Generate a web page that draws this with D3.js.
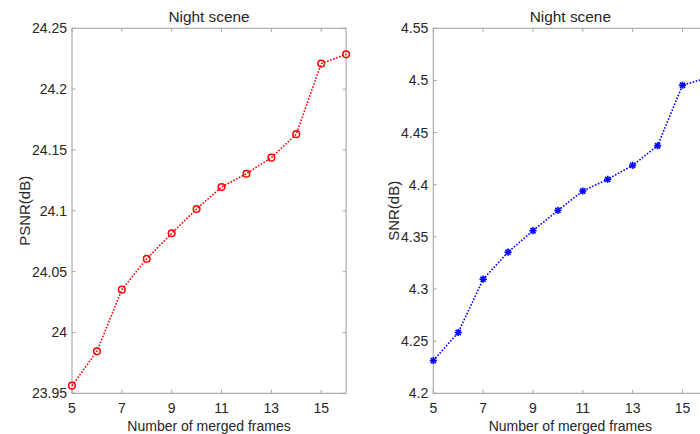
<!DOCTYPE html>
<html><head><meta charset="utf-8">
<script src="https://cdn.jsdelivr.net/npm/d3@7"></script>
<style>
body{margin:0;background:#fff;overflow:hidden}
svg{display:block}
text{font-family:"Liberation Sans",Arial,Helvetica,sans-serif;fill:#262626}
</style></head><body>
<svg id="c" width="700" height="434"></svg>
<script>
const frames = [5,6,7,8,9,10,11,12,13,14,15,16];
const psnr = [23.9563,23.9845,24.0352,24.0606,24.0815,24.1015,24.1195,24.1305,24.1437,24.1630,24.2210,24.2286];
const snr = [4.2314,4.2583,4.3094,4.3353,4.3559,4.3754,4.3940,4.4052,4.4186,4.4374,4.4954,4.5025];
const xTicks = [5,7,9,11,13,15];
const psnrTicks = [23.95,24,24.05,24.1,24.15,24.2,24.25];
const snrTicks = [4.2,4.25,4.3,4.35,4.4,4.45,4.5,4.55];
const title = "Night scene";
const xLabel = "Number of merged frames";

const svg = d3.select("#c");
const axisColor = "#a6a6a6";
const plotTop = 28.3, plotBottom = 393.3;

function panel(cfg){
  const g = svg.append("g");
  const x = d3.scaleLinear().domain([5,16]).range([cfg.left, cfg.left + 11*24.92]);
  const y = d3.scaleLinear().domain(cfg.ydom).range([plotBottom, plotTop]);
  const tl = 3.5;
  const tk = g.append("g").attr("stroke", axisColor).attr("stroke-width",1);
  xTicks.forEach(t=>{
    tk.append("line").attr("x1",x(t)).attr("x2",x(t)).attr("y1",plotBottom).attr("y2",plotBottom-tl);
    tk.append("line").attr("x1",x(t)).attr("x2",x(t)).attr("y1",plotTop).attr("y2",plotTop+tl);
  });
  cfg.yticks.forEach(t=>{
    tk.append("line").attr("x1",x(5)).attr("x2",x(5)+tl).attr("y1",y(t)).attr("y2",y(t));
    tk.append("line").attr("x1",x(16)).attr("x2",x(16)-tl).attr("y1",y(t)).attr("y2",y(t));
  });
  g.append("rect").attr("x",x(5)).attr("y",plotTop).attr("width",x(16)-x(5)).attr("height",plotBottom-plotTop)
    .attr("fill","none").attr("stroke",axisColor).attr("stroke-width",1.1);
  xTicks.forEach(t=>{
    g.append("text").attr("x",x(t)).attr("y",plotBottom+20).attr("text-anchor","middle")
      .attr("font-size",14).text(t);
  });
  cfg.yticks.forEach(t=>{
    g.append("text").attr("x",x(5)-5).attr("y",y(t)+5).attr("text-anchor","end")
      .attr("font-size",14).text(t);
  });
  g.append("text").attr("x",(x(5)+x(16))/2).attr("y",22).attr("text-anchor","middle")
    .attr("font-size",15.4).text(title);
  g.append("text").attr("x",(x(5)+x(16))/2).attr("y",431).attr("text-anchor","middle")
    .attr("font-size",14).text(xLabel);
  g.append("text").attr("transform",`translate(${cfg.ylabX},${(plotTop+plotBottom)/2}) rotate(-90)`)
    .attr("text-anchor","middle").attr("font-size",15).text(cfg.ylabel);
  const line = d3.line().x((d,i)=>x(frames[i])).y(d=>y(d));
  g.append("path").datum(cfg.values).attr("d",line).attr("fill","none")
    .attr("stroke",cfg.color).attr("stroke-width",1.6).attr("stroke-dasharray","1.6,1.6");
  const m = g.append("g");
  cfg.values.forEach((v,i)=>{
    const cx = x(frames[i]), cy = y(v);
    if(cfg.marker==="circle"){
      m.append("circle").attr("cx",cx).attr("cy",cy).attr("r",3.3)
        .attr("fill","none").attr("stroke",cfg.color).attr("stroke-width",1.5);
    } else {
      const s = 3.6;
      const p = m.append("g").attr("stroke",cfg.color).attr("stroke-width",1.6);
      p.append("line").attr("x1",cx-s).attr("x2",cx+s).attr("y1",cy).attr("y2",cy);
      p.append("line").attr("x1",cx).attr("x2",cx).attr("y1",cy-s).attr("y2",cy+s);
      const d = s*0.72;
      p.append("line").attr("x1",cx-d).attr("x2",cx+d).attr("y1",cy-d).attr("y2",cy+d);
      p.append("line").attr("x1",cx-d).attr("x2",cx+d).attr("y1",cy+d).attr("y2",cy-d);
    }
  });
}

panel({left:72, ydom:[23.95,24.25], yticks:psnrTicks, values:psnr, color:"#ff0000",
  marker:"circle", ylabel:"PSNR(dB)", ylabX:30});
panel({left:433.3, ydom:[4.2,4.55], yticks:snrTicks, values:snr, color:"#0000ff",
  marker:"star", ylabel:"SNR(dB)", ylabX:398.5});
</script>
</body></html>
